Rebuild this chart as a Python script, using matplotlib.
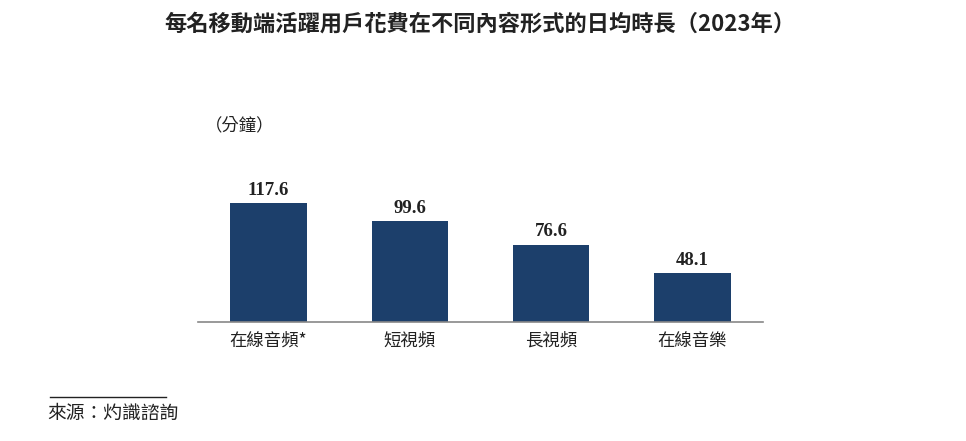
import matplotlib
matplotlib.use("Agg")
import matplotlib.pyplot as plt
from matplotlib.lines import Line2D

plt.rcParams['font.family'] = ['Noto Sans CJK TC', 'DejaVu Sans']

categories = ["在線音頻*", "短視頻", "長視頻", "在線音樂"]
values = [117.6, 99.6, 76.6, 48.1]
value_labels = ["117.6", "99.6", "76.6", "48.1"]

title = "每名移動端活躍用戶花費在不同內容形式的日均時長（2023年）"
unit = "（分鐘）"
source = "來源：灼識諮詢"

W, H = 966, 441
fig = plt.figure(figsize=(W / 100, H / 100), dpi=100)

# axes: x from 198 to 763 px, baseline at y=322 px, top at 140 px
ax = fig.add_axes([198 / W, 1 - 322 / H, (763 - 198) / W, (322 - 140) / H])
x = list(range(len(categories)))
bars = ax.bar(x, values, width=0.54, color="#1c3f6b", zorder=2)
ax.set_xlim(-0.5, 3.5)
ax.set_ylim(0, 180)
for s in ["top", "right", "left"]:
    ax.spines[s].set_visible(False)
ax.spines["bottom"].set_color("#888888")
ax.spines["bottom"].set_linewidth(1.2)
ax.set_yticks([])
ax.set_xticks(x)
ax.set_xticklabels(categories, fontsize=12.5, color="#222222")
ax.tick_params(axis="x", length=0, pad=7)

for xi, v, lab in zip(x, values, value_labels):
    ax.annotate(lab, (xi, v), xytext=(0, 3), textcoords="offset points",
                ha="center", va="bottom", fontsize=13.5, fontweight="bold",
                family=["Liberation Serif"], color="#222222")

fig.text(480 / W, 1 - 24 / H, title, ha="center", va="center",
         fontsize=16, fontweight="bold", color="#222222")
fig.text(205 / W, 1 - 125 / H, unit, ha="left", va="center",
         fontsize=12.5, color="#222222")

fig.add_artist(Line2D([50 / W, 166 / W], [1 - 397 / H, 1 - 397 / H],
                      color="#222222", linewidth=1.0))
fig.text(47 / W, 1 - 413 / H, source, ha="left", va="center",
         fontsize=13.5, color="#222222")

fig.savefig("out.png", dpi=100)
